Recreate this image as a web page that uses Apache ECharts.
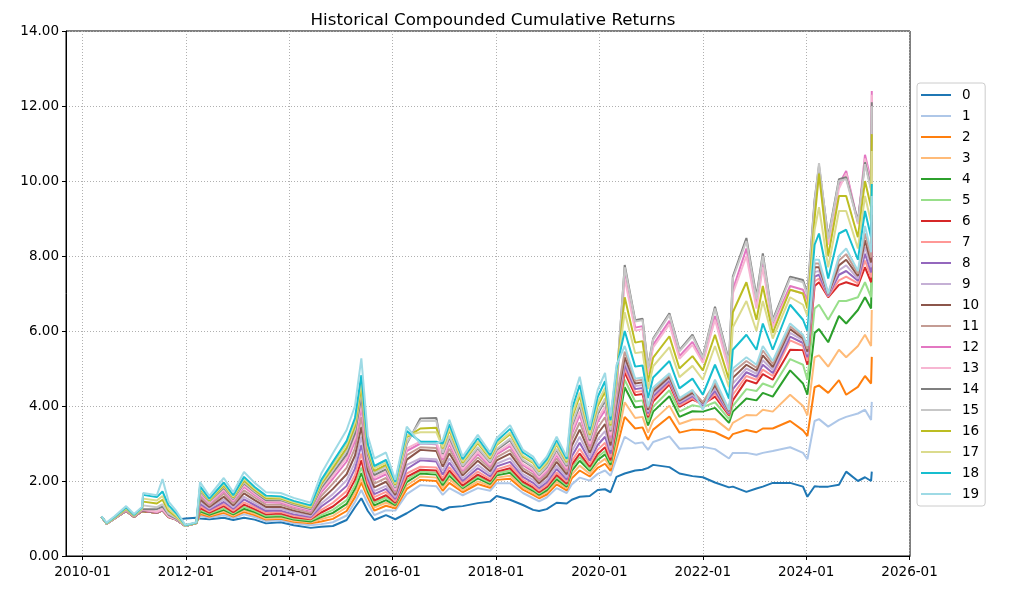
<!DOCTYPE html>
<html>
<head>
<meta charset="utf-8">
<script src="https://cdn.jsdelivr.net/npm/echarts@6/dist/echarts.min.js"></script>
<style>html,body{margin:0;padding:0;background:#fff}#chart{width:1011px;height:591px}</style>
</head>
<body>
<div id="chart"></div>
<script>
const dates = ['2010-05-15','2010-06-20','2010-08-15','2010-11-05','2010-12-31','2011-02-25','2011-03-05','2011-06-10','2011-07-20','2011-09-01','2011-10-25','2011-12-28','2012-03-15',
'2012-04-10','2012-06-15','2012-09-25','2012-12-01','2013-02-15','2013-05-01','2013-07-20','2013-11-01','2014-02-01','2014-06-01',
'2014-08-15','2014-11-05','2015-02-10','2015-04-10','2015-05-25','2015-07-10','2015-08-25','2015-11-15','2016-01-20','2016-04-10',
'2016-07-15','2016-11-05','2016-12-20','2017-02-05','2017-05-10','2017-08-25','2017-11-20','2018-01-05','2018-04-10','2018-07-10',
'2018-09-20','2018-11-01','2018-12-25','2019-03-05','2019-05-15','2019-06-20','2019-08-15','2019-10-25','2019-12-20','2020-02-10',
'2020-03-20','2020-05-01','2020-06-28','2020-09-10','2020-11-01','2020-12-10','2021-01-15','2021-05-10','2021-07-20','2021-10-20',
'2022-01-01','2022-03-28','2022-07-05','2022-08-01','2022-11-05','2023-01-15','2023-03-01','2023-05-10','2023-09-10','2023-12-10',
'2024-01-10','2024-03-01','2024-04-01','2024-06-05','2024-08-20','2024-10-10','2025-01-01','2025-02-20','2025-04-04','2025-04-09'];

const s0 = [1.05,0.86,1.0,1.2,1.04,1.2,1.22,1.15,1.22,1.04,0.97,1.0,1.02,
1.0,0.98,1.02,0.96,1.02,0.97,0.87,0.9,0.82,0.75,0.78,0.8,0.96,1.3,1.54,1.2,0.96,1.09,0.98,1.14,1.36,1.31,1.22,1.3,1.33,1.41,1.45,1.6,1.5,1.36,1.23,1.2,1.25,1.42,1.4,1.5,1.58,1.6,1.76,1.78,1.7,2.11,2.2,2.28,2.3,2.35,2.43,2.37,2.2,2.13,2.1,1.96,1.83,1.85,1.71,1.8,1.85,1.95,1.95,1.85,1.58,1.86,1.85,1.85,1.9,2.25,2.0,2.1,2.0,2.25];
const s1 = [1.05,0.86,1.0,1.2,1.04,1.2,1.22,1.15,1.22,1.04,0.97,0.8,0.88,
1.07,1.02,1.09,1.01,1.11,1.04,0.93,0.95,0.87,0.82,0.85,0.9,1.08,1.44,1.76,1.4,1.09,1.22,1.21,1.65,1.89,1.86,1.63,1.81,1.62,1.81,1.74,1.94,1.94,1.68,1.54,1.46,1.56,1.81,1.68,1.91,2.09,2.01,2.19,2.28,2.14,2.6,3.18,3.0,3.03,2.83,3.04,3.19,2.86,2.88,2.91,2.85,2.6,2.75,2.75,2.7,2.75,2.8,2.9,2.75,2.58,3.6,3.65,3.45,3.63,3.71,3.8,3.9,3.63,4.11];
const s2 = [1.05,0.86,1.0,1.2,1.04,1.2,1.22,1.15,1.22,1.04,0.97,0.8,0.88,
1.12,1.05,1.15,1.05,1.17,1.09,0.97,0.99,0.91,0.87,0.92,0.99,1.2,1.57,1.96,1.56,1.21,1.34,1.27,1.79,2.03,2.0,1.74,1.95,1.70,1.92,1.82,2.03,2.06,1.77,1.63,1.54,1.64,1.91,1.75,2.07,2.28,2.12,2.35,2.46,2.27,2.85,3.71,3.40,3.43,3.10,3.37,3.72,3.29,3.37,3.36,3.3,3.12,3.25,3.36,3.3,3.4,3.4,3.6,3.35,3.2,4.5,4.55,4.35,4.69,4.3,4.51,4.8,4.6,5.31];
const s3 = [1.05,0.86,1.0,1.2,1.04,1.2,1.22,1.15,1.22,1.04,0.97,0.8,0.88,
1.16,1.08,1.19,1.08,1.22,1.13,1.0,1.02,0.94,0.90,0.98,1.07,1.30,1.68,2.06,1.64,1.29,1.42,1.32,1.88,2.12,2.09,1.82,2.05,1.75,1.99,1.87,2.09,2.14,1.83,1.68,1.58,1.70,1.98,1.8,2.17,2.41,2.19,2.45,2.59,2.35,3.0,4.1,3.68,3.71,3.29,3.61,4.01,3.52,3.64,3.65,3.65,3.35,3.55,3.76,3.75,3.9,3.85,4.3,4.0,3.75,5.3,5.35,5.05,5.5,5.3,5.6,5.9,5.6,6.56];
const s4 = [1.05,0.86,1.0,1.2,1.04,1.2,1.22,1.15,1.22,1.04,0.97,0.8,0.88,
1.19,1.10,1.23,1.11,1.26,1.17,1.04,1.06,0.97,0.92,1.04,1.15,1.39,1.79,2.21,1.72,1.35,1.49,1.36,1.97,2.2,2.17,1.89,2.14,1.81,2.07,1.92,2.15,2.22,1.89,1.74,1.63,1.75,2.05,1.85,2.27,2.54,2.27,2.56,2.71,2.43,3.2,4.5,3.96,3.99,3.48,3.85,4.26,3.71,3.86,3.85,3.95,3.55,3.85,4.2,4.15,4.35,4.25,4.95,4.6,4.3,5.95,6.05,5.7,6.4,6.2,6.56,6.9,6.6,7.75];
const s5 = [1.05,0.86,1.0,1.2,1.04,1.2,1.22,1.15,1.22,1.04,0.97,0.8,0.88,
1.23,1.13,1.27,1.14,1.31,1.21,1.07,1.09,1.0,0.95,1.09,1.23,1.49,1.89,2.36,1.8,1.42,1.56,1.39,2.04,2.25,2.22,1.95,2.21,1.84,2.12,1.96,2.2,2.28,1.93,1.78,1.67,1.80,2.11,1.89,2.35,2.64,2.32,2.64,2.80,2.49,3.3,4.7,4.12,4.15,3.59,3.98,4.42,3.85,4.02,3.97,4.1,3.65,4.0,4.45,4.4,4.6,4.5,5.25,5.1,4.7,6.6,6.7,6.3,6.8,6.8,6.9,7.3,6.9,7.9];
const s6 = [1.05,0.86,1.0,1.2,1.04,1.2,1.22,1.15,1.22,1.04,0.97,0.8,0.88,
1.28,1.16,1.33,1.17,1.37,1.25,1.11,1.13,1.03,0.98,1.16,1.32,1.61,2.03,2.55,1.88,1.48,1.62,1.42,2.11,2.3,2.28,2.01,2.28,1.88,2.17,2.0,2.25,2.34,1.98,1.83,1.7,1.84,2.16,1.93,2.43,2.73,2.38,2.72,2.90,2.55,3.45,4.9,4.29,4.32,3.70,4.12,4.58,3.98,4.17,4.05,4.25,3.75,4.15,4.69,4.6,4.85,4.7,5.5,5.49,5.1,7.2,7.3,6.9,7.23,7.3,7.2,7.7,7.3,8.3];
const s7 = [1.05,0.86,1.0,1.21,1.04,1.21,1.22,1.15,1.22,1.04,0.97,0.8,0.88,
1.33,1.19,1.38,1.21,1.43,1.30,1.15,1.17,1.07,1.0,1.23,1.42,1.73,2.16,2.73,1.96,1.57,1.71,1.46,2.20,2.38,2.36,2.08,2.37,1.94,2.25,2.05,2.31,2.42,2.04,1.88,1.75,1.89,2.23,1.98,2.53,2.86,2.45,2.83,3.02,2.63,3.6,
5.0,4.37,4.4,3.75,4.19,4.63,4.02,4.21,4.0,4.33,3.78,4.3,4.8,4.7,4.97,4.8,5.75,5.6,5.2,7.32,7.4,6.92,7.35,7.45,7.27,7.88,7.43,8.5];
const s8 = [1.05,0.86,1.0,1.21,1.05,1.21,1.23,1.16,1.23,1.05,0.97,0.8,0.88,
1.39,1.23,1.44,1.26,1.51,1.36,1.2,1.21,1.11,1.04,1.32,1.54,1.87,2.33,2.96,2.06,1.65,1.79,1.52,2.32,2.55,2.52,2.17,2.49,2.0,2.34,2.12,2.39,2.51,2.11,1.95,1.81,1.96,2.32,2.04,2.66,3.02,2.54,2.96,3.18,2.73,3.75,
5.1,4.45,4.48,3.8,4.26,4.68,4.06,4.26,4.02,4.4,3.8,4.45,4.9,4.78,5.1,4.88,5.85,5.68,5.3,7.45,7.5,6.94,7.5,7.6,7.34,8.06,7.56,8.7];
const s9 = [1.05,0.86,1.0,1.21,1.05,1.22,1.23,1.16,1.23,1.05,0.97,0.8,0.88,
1.45,1.27,1.51,1.30,1.58,1.42,1.25,1.26,1.16,1.07,1.40,1.65,2.02,2.49,3.18,2.16,1.73,1.87,1.57,2.43,2.6,2.58,2.27,2.60,2.07,2.43,2.18,2.46,2.61,2.18,2.03,1.87,2.03,2.41,2.1,2.79,3.18,2.64,3.1,3.33,2.83,3.9,
5.2,4.53,4.56,3.85,4.32,4.73,4.1,4.3,4.05,4.48,3.83,4.6,5.0,4.86,5.22,4.96,5.95,5.75,5.38,7.57,7.6,6.96,7.62,7.75,7.4,8.24,7.7,8.9];
const s10 = [1.05,0.86,1.0,1.22,1.05,1.22,1.23,1.16,1.23,1.05,0.97,0.8,0.88,
1.51,1.31,1.58,1.35,1.67,1.49,1.31,1.31,1.21,1.11,1.50,1.79,2.18,2.68,3.44,2.28,1.83,1.98,1.63,2.57,2.83,2.8,2.38,2.74,2.15,2.54,2.26,2.55,2.73,2.27,2.11,1.94,2.12,2.51,2.18,2.94,3.37,2.75,3.26,3.52,2.95,4.05,
5.3,4.6,4.63,3.9,4.38,4.78,4.14,4.35,4.08,4.55,3.86,4.75,5.1,4.94,5.35,5.04,6.05,5.8,5.45,7.7,7.7,6.98,7.75,7.9,7.47,8.42,7.83,9.1];
const s11 = [1.05,0.86,1.0,1.22,1.05,1.23,1.24,1.17,1.24,1.05,0.98,0.8,0.88,
1.58,1.35,1.66,1.40,1.75,1.56,1.37,1.37,1.26,1.15,1.60,1.93,2.35,2.87,3.70,2.4,1.93,2.08,1.68,2.69,2.9,2.88,2.47,2.86,2.21,2.63,2.33,2.63,2.83,2.34,2.18,2.0,2.19,2.60,2.24,3.1,3.56,2.84,3.42,3.70,3.05,4.2,
5.45,4.67,4.7,3.95,4.44,4.83,4.18,4.4,4.1,4.62,3.88,4.9,5.2,5.02,5.48,5.12,6.12,5.85,5.52,7.8,7.8,7.0,7.88,8.05,7.53,8.6,7.96,9.35];
const s12 = [1.05,0.86,1.01,1.23,1.06,1.23,1.24,1.17,1.24,1.06,0.98,0.8,0.88,
1.65,1.40,1.73,1.46,1.84,1.63,1.43,1.42,1.31,1.2,1.70,2.06,2.52,3.06,3.96,2.54,2.03,2.18,1.74,2.80,3.0,2.98,2.57,2.98,2.28,2.72,2.39,2.71,2.93,2.42,2.25,2.06,2.26,2.69,2.3,3.25,3.76,2.93,3.58,3.89,3.15,4.4,7.5,6.09,6.13,4.91,5.63,6.27,5.33,5.71,5.2,6.4,5.0,7.1,8.2,6.7,7.8,6.15,7.2,7.1,6.8,9.4,10.3,8.4,9.9,10.27,8.9,10.7,10.0,12.4];
const s13 = [1.05,0.86,1.01,1.23,1.06,1.24,1.25,1.18,1.25,1.06,0.98,0.8,0.88,
1.69,1.42,1.77,1.49,1.89,1.67,1.46,1.45,1.34,1.23,1.76,2.14,2.62,3.16,4.11,2.62,2.09,2.24,1.77,2.87,3.05,3.03,2.62,3.05,2.32,2.78,2.43,2.76,2.99,2.46,2.30,2.1,2.30,2.74,2.34,3.33,3.85,2.99,3.66,3.98,3.22,4.45,7.4,6.01,6.05,4.85,5.56,6.18,5.26,5.63,5.15,6.3,4.95,7.0,8.0,6.6,7.7,6.1,7.1,7.0,6.7,9.3,10.2,8.3,9.8,10.2,8.85,10.6,9.9,12.3];
const s14 = [1.05,0.86,1.01,1.24,1.07,1.25,1.3,1.25,1.32,1.1,1.0,0.8,0.88,
1.73,1.45,1.82,1.52,1.94,1.71,1.49,1.49,1.37,1.25,1.82,2.22,2.71,3.27,4.26,2.7,2.16,2.31,1.82,2.99,3.67,3.68,2.72,3.16,2.39,2.87,2.5,2.83,3.09,2.54,2.37,2.16,2.37,2.83,2.4,3.46,4.01,3.08,3.79,4.14,3.32,4.6,7.76,6.29,6.33,5.04,5.8,6.47,5.49,5.9,5.31,6.65,5.2,7.45,8.48,6.92,8.07,6.3,7.45,7.36,7.0,9.5,10.4,8.5,10.05,10.1,8.93,10.5,9.8,12.1];
const s15 = [1.05,0.86,1.01,1.25,1.07,1.25,1.35,1.3,1.38,1.13,1.02,0.8,0.88,
1.76,1.46,1.85,1.54,1.97,1.73,1.52,1.51,1.39,1.27,1.87,2.29,2.81,3.38,4.41,2.76,2.22,2.38,1.84,3.03,3.6,3.6,2.75,3.21,2.41,2.90,2.52,2.86,3.13,2.57,2.39,2.18,2.40,2.86,2.43,3.51,4.08,3.12,3.84,4.20,3.36,4.65,7.7,6.25,6.29,5.01,5.77,6.43,5.46,5.86,5.28,6.6,5.15,7.4,8.4,6.85,8.0,6.25,7.4,7.3,6.95,9.45,10.48,8.45,10.0,10.05,8.9,10.45,9.75,12.0];
const s16 = [1.05,0.87,1.02,1.26,1.08,1.26,1.45,1.4,1.5,1.2,1.05,0.81,0.88,
1.79,1.48,1.88,1.56,2.01,1.76,1.54,1.53,1.41,1.29,1.92,2.35,2.88,3.46,4.52,2.82,2.27,2.43,1.90,3.17,3.4,3.42,2.87,3.35,2.49,3.01,2.6,2.96,3.25,2.65,2.48,2.26,2.48,2.97,2.5,3.67,4.27,3.23,4.0,4.38,3.48,4.8,6.9,5.69,5.73,4.64,5.29,5.86,5.0,5.33,4.95,5.9,4.7,6.5,7.3,6.3,7.2,5.95,7.1,7.0,6.6,9.0,10.2,8.0,9.6,9.6,8.5,10.0,9.3,11.25];
const s17 = [1.05,0.87,1.03,1.28,1.09,1.27,1.53,1.48,1.6,1.26,1.08,0.81,0.89,
1.82,1.51,1.92,1.59,2.06,1.80,1.58,1.56,1.44,1.32,1.97,2.43,2.98,3.57,4.67,2.9,2.34,2.49,1.93,3.22,3.3,3.3,2.90,3.40,2.52,3.05,2.63,2.99,3.29,2.68,2.51,2.28,2.51,3.0,2.53,3.74,4.36,3.27,4.08,4.48,3.52,4.85,6.5,5.41,5.44,4.45,5.06,5.57,4.77,5.07,4.7,5.6,4.5,6.1,6.8,6.0,6.8,5.8,6.9,6.7,6.4,8.7,9.3,7.7,9.2,9.2,8.2,9.6,8.9,10.8];
const s18 = [1.05,0.88,1.04,1.3,1.1,1.29,1.63,1.57,1.72,1.35,1.14,0.82,0.89,
1.86,1.53,1.96,1.62,2.11,1.84,1.61,1.59,1.47,1.35,2.03,2.51,3.07,3.68,4.82,2.98,2.40,2.56,1.98,3.33,3.05,3.05,3.0,3.51,2.58,3.14,2.69,3.06,3.39,2.76,2.58,2.34,2.58,3.09,2.59,3.9,4.56,3.36,4.24,4.66,3.62,5.0,6.0,5.05,5.08,4.21,4.76,5.2,4.47,4.73,4.3,5.1,4.2,5.5,5.9,5.5,6.2,5.5,6.7,6.3,6.0,8.3,8.6,7.4,8.6,8.7,7.9,9.2,8.5,9.92];
const s19 = [1.06,0.89,1.06,1.33,1.12,1.31,1.68,1.62,2.05,1.45,1.2,0.83,0.9,
1.97,1.6,2.08,1.7,2.24,1.95,1.7,1.68,1.55,1.42,2.2,2.74,3.36,4.0,5.27,3.2,2.6,2.76,2.03,3.45,3.0,3.0,3.09,3.63,2.65,3.23,2.76,3.14,3.49,2.83,2.65,2.4,2.65,3.18,2.65,4.08,4.78,3.45,4.43,4.88,3.72,5.09,5.6,4.73,4.76,3.99,4.49,4.87,4.21,4.43,3.9,4.7,3.9,5.0,5.3,5.1,5.6,5.2,6.2,5.9,5.6,7.9,7.9,7.0,8.0,8.2,7.6,8.8,8.1,9.6];

const seriesNames = ['0','1','2','3','4','5','6','7','8','9','10','11','12','13','14','15','16','17','18','19'];
const seriesValues = [s0,s1,s2,s3,s4,s5,s6,s7,s8,s9,s10,s11,s12,s13,s14,s15,s16,s17,s18,s19];
const colors = ['#1f77b4','#aec7e8','#ff7f0e','#ffbb78','#2ca02c','#98df8a','#d62728','#ff9896','#9467bd','#c5b0d5',
'#8c564b','#c49c94','#e377c2','#f7b6d2','#7f7f7f','#c7c7c7','#bcbd22','#dbdb8d','#17becf','#9edae5'];
const tickYears = [2010,2012,2014,2016,2018,2020,2022,2024,2026];
const titleText = 'Historical Compounded Cumulative Returns';

function ts(s){const p=s.split('-').map(Number);return Date.UTC(p[0],p[1]-1,p[2]);}
const xTicks = tickYears.map(y=>Date.UTC(y,0,1));
const FONT = 'DejaVu Sans';

const chart = echarts.init(document.getElementById('chart'), null, {renderer:'canvas'});
chart.setOption({
  animation: false,
  backgroundColor: '#ffffff',
  textStyle: {fontFamily: FONT},
  title: {
    text: titleText, left: 488, top: 7, textAlign: 'center',
    textStyle: {fontFamily: FONT, fontSize: 16.7, fontWeight: 'normal', color: '#000'}
  },
  legend: {
    orient: 'vertical', left: 917, top: 83,
    data: seriesNames,
    icon: 'rect',
    itemWidth: 30, itemHeight: 2, itemGap: 7,
    padding: [5, 6, 5, 4],
    borderColor: '#cccccc', borderWidth: 1, borderRadius: 3,
    backgroundColor: '#ffffff',
    textStyle: {fontFamily: FONT, fontSize: 13.5, lineHeight: 13, color: '#000', padding: [0,0,0,6]}
  },
  grid: {left: 66, right: 101, top: 31, bottom: 35, show: true, borderColor: '#000', borderWidth: 1, backgroundColor: 'transparent'},
  xAxis: {
    type: 'value',
    min: ts('2009-09-06'), max: ts('2026-01-04'),
    axisLine: {show: true, onZero: false, lineStyle: {color: '#000', width: 1}},
    axisTick: {show: true, inside: false, length: 4, lineStyle: {color: '#000'}, customValues: xTicks},
    axisLabel: {
      customValues: xTicks, margin: 9, fontSize: 13.5, color: '#000', fontFamily: FONT, hideOverlap: false,
      showMinLabel: true, showMaxLabel: true,
      formatter: function(v){const d=new Date(v);return d.getUTCFullYear()+'-'+String(d.getUTCMonth()+1).padStart(2,'0');}
    },
    splitLine: {show: true, lineStyle: {color: '#b0b0b0', width: 1, type: [1,2]}}
  },
  yAxis: {
    type: 'value', min: 0, max: 14, interval: 2,
    axisLine: {show: true, lineStyle: {color: '#000', width: 1}},
    axisTick: {show: true, inside: false, length: 4, lineStyle: {color: '#000'}},
    axisLabel: {margin: 7, fontSize: 13.5, color: '#000', fontFamily: FONT, formatter: v => v.toFixed(2)},
    splitLine: {show: true, lineStyle: {color: '#b0b0b0', width: 1, type: [1,2]}}
  },
  series: seriesValues.map((arr, k) => ({
    name: seriesNames[k],
    type: 'line',
    symbol: 'none',
    showSymbol: false,
    color: colors[k],
    lineStyle: {width: 2, color: colors[k]},
    emphasis: {disabled: true},
    data: dates.map((d, i) => [ts(d), arr[i]])
  }))
});
</script>
</body>
</html>
